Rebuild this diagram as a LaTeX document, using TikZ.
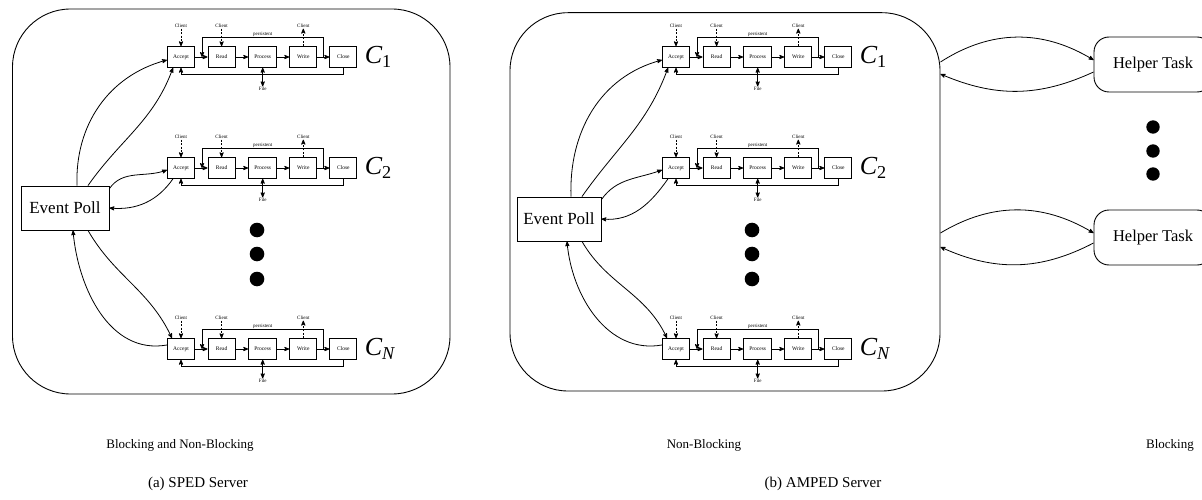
\documentclass[tikz,border=0pt]{standalone}
\usepackage{fontspec}
\setmainfont{Liberation Serif}
\usetikzlibrary{arrows, positioning, calc}
\tikzset{
    srvbox/.style={
        draw,
        line width=0.9pt,
        rounded corners=58pt,
        inner sep=0pt,
    },
    stage/.style={
        draw,
        line width=1.1pt,
        minimum width=27pt,
        minimum height=20.5pt,
        inner sep=0pt,
        font=\fontsize{5.5}{6}\selectfont,
    },
    tag/.style={
        inner sep=0.5pt,
        font=\fontsize{5}{6}\selectfont,
    },
    poll/.style={
        draw,
        line width=0.9pt,
        minimum width=88pt,
        minimum height=44pt,
        font=\fontsize{17}{20}\selectfont,
    },
    helper/.style={
        draw,
        line width=0.9pt,
        rounded corners=15pt,
        minimum width=118pt,
        minimum height=55pt,
        font=\fontsize{16.5}{20}\selectfont,
    },
    bigdot/.style={circle, fill=black, minimum size=14.6pt, inner sep=0pt},
    cname/.style={inner sep=0pt, font=\fontsize{26}{30}\selectfont},
    caption/.style={font=\fontsize{13}{16}\selectfont},
}
\begin{document}
\begin{tikzpicture}[x=1pt, y=1pt, >=stealth', line width=0.8pt]
          \useasboundingbox (0,0) rectangle (1202,-500);

          % the two servers
          \node[srvbox, minimum width=437.5pt, minimum height=385pt] (sped) at (231.25,-201.5) {};
          \node[srvbox, minimum width=430pt, minimum height=378.3pt] (amped) at (725,-201.85) {};

          \foreach \sx/\sv/\px/\py/\pw in {0/s/65/208/88, 495/a/559/219/84}{
            \node[poll, minimum width=\pw pt] (\sv-poll) at (\px,-\py) {Event Poll};

            % one pipeline per client
            \foreach \cy/\rw/\ci in {57/1/1, 168/2/2, 349/n/{\itshape N}}{
              \node[stage] (\sv\rw-acc) at (\sx+181,-\cy) {Accept};
              \node[stage, right=12.5pt of \sv\rw-acc] (\sv\rw-rd) {Read};
              \node[stage, minimum width=28pt, right=12.5pt of \sv\rw-rd] (\sv\rw-prc) {Process};
              \node[stage, right=12pt of \sv\rw-prc] (\sv\rw-wr) {Write};
              \node[stage, right=12pt of \sv\rw-wr] (\sv\rw-cl) {Close};
              \node[cname, right=7pt of \sv\rw-cl] (\sv\rw-lbl) {{\itshape C}\textsubscript{\ci}};

              \node[tag] (\sv\rw-ca) at ([yshift=31pt]\sv\rw-acc.center) {Client};
              \node[tag] (\sv\rw-cr) at ([yshift=31pt]\sv\rw-rd.center) {Client};
              \node[tag] (\sv\rw-cw) at ([yshift=31pt]\sv\rw-wr.center) {Client};
              \node[tag] (\sv\rw-fl) at ([yshift=-32pt]\sv\rw-prc.center) {File};

              \draw[->, dash pattern=on 2pt off 1.5pt] (\sv\rw-ca) -- (\sv\rw-acc);
              \draw[->, dash pattern=on 2pt off 1.5pt] (\sv\rw-cr) -- (\sv\rw-rd);
              \draw[->, dash pattern=on 2pt off 1.5pt] (\sv\rw-wr) -- (\sv\rw-cw);

              \draw[->] (\sv\rw-acc) -- (\sv\rw-rd);
              \draw[->] (\sv\rw-rd) -- (\sv\rw-prc);
              \draw[->] (\sv\rw-prc) -- (\sv\rw-wr);
              \draw[->] (\sv\rw-wr) -- (\sv\rw-cl);
              \draw[<->] (\sv\rw-prc) -- (\sv\rw-fl);
              \draw[->] ([xshift=6pt]\sv\rw-wr.east) -- ++(0,20) -| ([xshift=7pt]\sv\rw-acc.east)
                  node[pos=0.25, above, tag] {persistent};
              \draw[->] (\sv\rw-cl.south) -- ++(0,-6.75) -| (\sv\rw-acc.south);
            }

            \foreach \dy in {230,254,279}
              \node[bigdot] (\sv-dot\dy) at (\sx+257,-\dy) {};

            % event poll to the accepts
            \draw[->] ([xshift=12pt]\sv-poll.north) to[out=92, in=195] ([yshift=-3pt]\sv1-acc.west);
            \draw[->] ([xshift=23pt]\sv-poll.north) to[out=55, in=250] ([xshift=-8pt]\sv1-acc.south);
            \draw[->] ([yshift=-3pt]\sv-poll.north east) to[out=55, in=200] ([yshift=-2pt]\sv2-acc.west);
            \draw[->] ([xshift=-8pt]\sv2-acc.south) to[out=235, in=-5] (\sv-poll.east);
            \draw[->] ([xshift=23pt]\sv-poll.south) to[out=-60, in=115] ([xshift=-9pt]\sv n-acc.north);
            \draw[->] ([yshift=4pt]\sv n-acc.west) to[out=190, in=-85] ([xshift=8pt]\sv-poll.south);
          }

          % helpers
          \node[helper] (hlp1) at (1153,-64.5) {Helper Task};
          \node[helper] (hlp2) at (1153,-237.5) {Helper Task};
          \foreach \dy in {127,151,174}
            \node[bigdot, minimum size=13.4pt] (h-dot\dy) at (1153,-\dy) {};

          \draw[->] ([yshift=2.5pt]amped.east |- hlp1.center) to[bend left=32] ([yshift=4.5pt]hlp1.west);
          \draw[->] ([yshift=-7.5pt]hlp1.west) to[bend left=24] ([yshift=-9.5pt]amped.east |- hlp1.center);
          \draw[->] ([yshift=4.5pt]amped.east |- hlp2.center) to[bend left=31] ([yshift=4.5pt]hlp2.west);
          \draw[->] ([yshift=-5.5pt]hlp2.west) to[bend left=26] ([yshift=-9.5pt]amped.east |- hlp2.center);

          % captions
          \node[caption] (cap-sb) at (180,-445) {Blocking and Non-Blocking};
          \node[caption] (cap-an) at (704,-445) {Non-Blocking};
          \node[caption] (cap-ab) at (1170,-445) {Blocking};
          \node[caption, font=\fontsize{15}{18}\selectfont] (cap-s) at (198,-484) {(a) SPED Server};
          \node[caption, font=\fontsize{15}{18}\selectfont] (cap-a) at (823,-484) {(b) AMPED Server};
\end{tikzpicture}
\end{document}
